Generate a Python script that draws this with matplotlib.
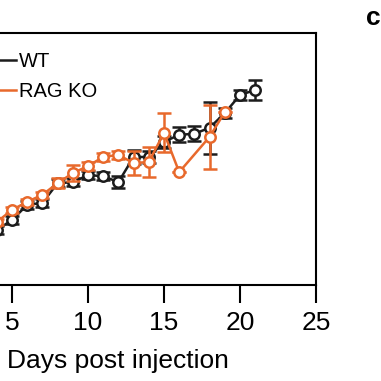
import matplotlib
matplotlib.use("Agg")
import matplotlib.pyplot as plt
from matplotlib.lines import Line2D

plt.rcParams.update({
    "font.family": ["Liberation Sans", "DejaVu Sans"],
    "font.size": 19,
    "axes.linewidth": 1.5,
})

BLACK = "#1c1c1c"
ORANGE = "#e8692c"

# WT (black)
wt_days = [4, 5, 6, 7, 8, 9, 10, 11, 12, 13, 14, 15, 16, 17, 18, 19, 20, 21]
wt_mean = [10.9, 12.9, 15.9, 16.3, 20.2, 20.4, 21.8, 21.6, 20.4, 25.4, 25.4,
           28.4, 29.8, 30.0, 31.2, 34.1, 37.7, 38.7]
wt_err = [0.8, 0.8, 0.8, 0.8, 0.8, 0.8, 0.8, 0.8, 1.2, 1.4, 1.2,
          1.2, 1.5, 1.5, 5.2, 1.0, 1.0, 2.0]

# RAG KO (orange)
ko_days = [4, 5, 6, 7, 8, 9, 10, 11, 12, 13, 14, 15, 16, 18, 19]
ko_mean = [12.5, 14.9, 16.5, 17.9, 20.2, 22.2, 23.6, 25.4, 25.8, 24.2, 24.4,
           30.2, 22.4, 29.4, 34.3]
ko_err = [0.6, 0.6, 0.6, 0.6, 1.0, 1.6, 0.8, 0.8, 0.8, 2.3, 3.0,
          3.9, 0.0, 6.3, 0.0]

xticks = [5, 10, 15, 20, 25]

fig = plt.figure(figsize=(3.81, 3.81), dpi=100)
ax = fig.add_axes([-64 / 381, 96 / 381, 380 / 381, 252 / 381])

style = dict(marker="o", markersize=7.5, markerfacecolor="white",
             markeredgewidth=1.8, linewidth=1.8, capsize=5, elinewidth=1.8,
             capthick=1.8)
ax.errorbar(wt_days, wt_mean, yerr=wt_err, color=BLACK, zorder=2, **style)
ax.errorbar(ko_days, ko_mean, yerr=ko_err, color=ORANGE, zorder=3, **style)

ax.set_xlim(0, 25)
ax.set_ylim(0, 50)
ax.set_xticks(xticks)
ax.set_yticks([])
ax.tick_params(axis="x", direction="out", length=13, width=1.5, pad=6)
ax.set_xlabel("Days post injection", labelpad=10)
ax.xaxis.label.set_x(0.478)

handles = [Line2D([], [], color=BLACK, lw=1.8),
           Line2D([], [], color=ORANGE, lw=1.8)]
ax.legend(handles, ["WT", "RAG KO"], loc="upper left",
          bbox_to_anchor=(0.105, 0.955), frameon=False, fontsize=14.5,
          handlelength=1.6, handletextpad=0.15, labelspacing=0.55,
          borderaxespad=0)

fig.text(366 / 381, 1 - 18 / 381, "c", fontsize=19, fontweight="bold",
         va="center", ha="left")

fig.savefig("out.png", dpi=100)
